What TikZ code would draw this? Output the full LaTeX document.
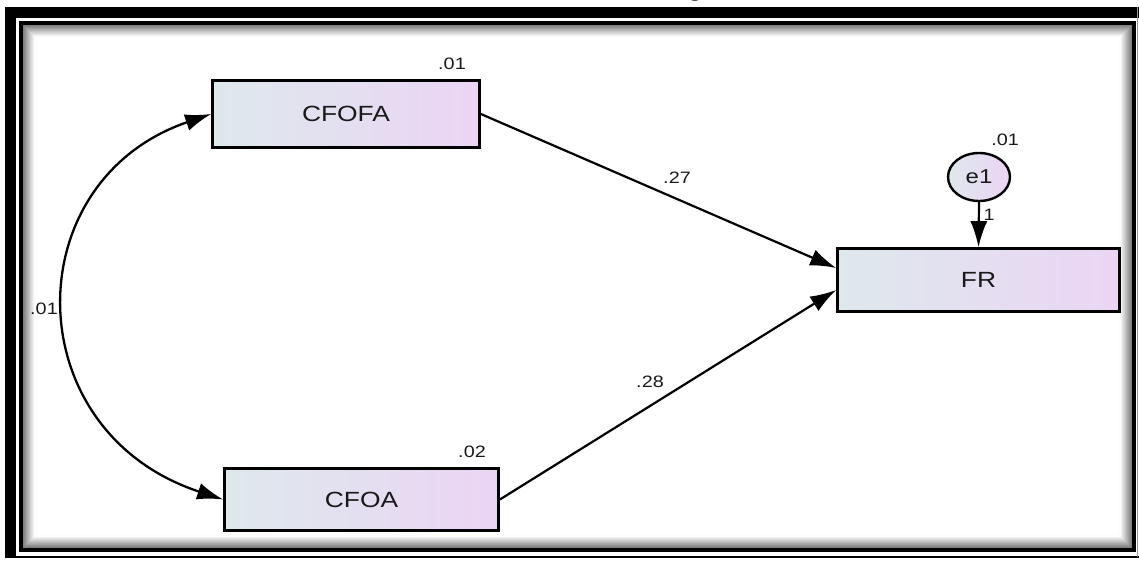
\documentclass[tikz,border=0pt]{standalone}
\usepackage{graphicx}
\usepackage{fontspec}
\setmainfont{Liberation Sans}
\newfontfamily\capfont{Liberation Serif}
\usepackage{tikz}
\usetikzlibrary{calc,arrows.meta,shapes.geometric}

\definecolor{boxl}{RGB}{221,233,236}
\definecolor{boxr}{RGB}{236,212,245}
\newcommand{\wide}[1]{\scalebox{1.2}[1]{#1}}

\begin{document}
\begin{tikzpicture}[x=1pt,y=-1pt,
  var/.style={draw,line width=2.7pt,inner sep=0pt,left color=boxl,right color=boxr,text=black!90,font=\fontsize{22}{26}\selectfont},
  err/.style={ellipse,draw,line width=2.4pt,inner sep=0pt,left color=boxl,right color=boxr,text=black!90,font=\fontsize{20}{24}\selectfont},
  est/.style={text=black!90,inner sep=0pt,font=\fontsize{16.5}{19}\selectfont},
  path/.style={line width=2.2pt,-{Latex[length=26pt,width=17pt]}},
  cov/.style={line width=2.3pt,{Latex[length=26pt,width=17pt]}-{Latex[length=26pt,width=17pt]}}]
\useasboundingbox (0,0) rectangle (1139,561);

% caption cut at top
\node[anchor=base,inner sep=0pt,font=\capfont\fontsize{22}{26}\selectfont] (cap) at (695,-3) {g};

% outer frame
\fill[black] (5,7) rectangle (1139,18);
\fill[black] (5,7) rectangle (16,557);
\draw[line width=1.5pt] (5,557) -- (1139,557);
\draw[black!40,line width=1.5pt] (1137.5,7) -- (1137.5,557);

% inner frame with shadow
\foreach \i [evaluate=\i as \c using 55-4.5*\i] in {0,...,12}
  \draw[black!\c,line width=1.2pt] (23+\i,25+\i) rectangle (1132-\i,548-\i);
\draw[line width=4pt] (21,23.5) rectangle (1133.5,550);

% observed variables
\node[var,minimum width=267pt,minimum height=67pt] (cfofa) at (346,114) {\wide{CFOFA}};
\node[var,minimum width=274pt,minimum height=62pt] (cfoa) at (361.5,499.5) {\wide{CFOA}};
\node[var,minimum width=282pt,minimum height=63pt] (fr) at (978.5,280) {\wide{FR}};
\node[err,minimum width=62pt,minimum height=48pt] (e1) at (979,177) {\wide{e1}};

% paths
\draw[path] (cfofa.east) -- ($(fr.west)+(0,-12)$);
\draw[path] (cfoa.east) -- ($(fr.west)+(0,10)$);
\draw[path] (e1.south) -- (fr.north);
\draw[cov] (cfofa.west) .. controls +(-196,67) and +(-207,-68) .. (cfoa.west);

% estimates
\node[est] (v1) at (452,64) {\wide{.01}};
\node[est] (v2) at (472,452) {\wide{.02}};
\node[est] (v3) at (1005,140) {\wide{.01}};
\node[est] (w1) at (989,215) {\wide{1}};
\node[est] (b1) at (677,178) {\wide{.27}};
\node[est] (b2) at (650,382) {\wide{.28}};
\node[est] (c1) at (44,309) {\wide{.01}};
\end{tikzpicture}
\end{document}
